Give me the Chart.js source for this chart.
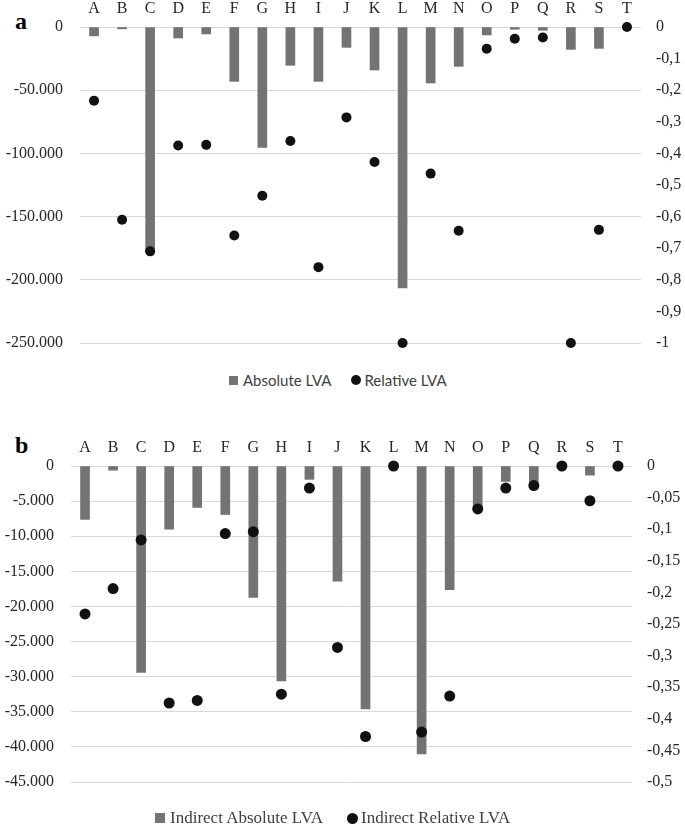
<!DOCTYPE html>
<html>
<head>
<meta charset="utf-8">
<script src="https://cdn.jsdelivr.net/npm/chart.js@4/dist/chart.umd.min.js"></script>
<style>
  html, body { margin: 0; padding: 0; background: #fff; }
  #wrap { position: relative; width: 685px; height: 827px; overflow: hidden; }
  #wrap canvas { position: absolute; left: 0; }
  .tag { position: absolute; font-family: "Liberation Serif", serif; font-weight: bold; font-size: 24px; line-height: 24px; color: #000; }
  .legend { position: absolute; display: flex; align-items: center; white-space: nowrap; color: #404040; }
  .sq { display: inline-block; width: 9px; height: 9px; background: #737373; margin-right: 5px; }
  .dot { display: inline-block; width: 10px; height: 10px; border-radius: 50%; background: #111; margin-right: 3px; }
</style>
</head>
<body>
<div id="wrap">
  <div class="tag" style="left:15px; top:9px;">a</div>
  <canvas id="chartA" width="685" height="360" style="top:0px;"></canvas>
  <div class="legend" style="left:229px; top:371px; font-family: Lato, sans-serif; font-size:15px; height:18px;">
    <span class="sq"></span><span>Absolute LVA</span>
    <span style="display:inline-block; width:20px;"></span>
    <span class="dot"></span><span>Relative LVA</span>
  </div>

  <div class="tag" style="left:15px; top:433px;">b</div>
  <canvas id="chartB" width="685" height="388" style="top:439px;"></canvas>
  <div class="legend" style="left:155px; top:808px; font-family: 'Liberation Serif', serif; font-size:17px; height:20px;">
    <span class="sq" style="width:10px; height:10px;"></span><span>Indirect Absolute LVA</span>
    <span style="display:inline-block; width:24px;"></span>
    <span class="dot" style="width:11px; height:11px;"></span><span>Indirect Relative LVA</span>
  </div>
</div>

<script>
// categories (countries / sectors A..T)
var categories = ['A', 'B', 'C', 'D', 'E', 'F', 'G', 'H', 'I', 'J',
                  'K', 'L', 'M', 'N', 'O', 'P', 'Q', 'R', 'S', 'T'];

// panel a
var absoluteLVA = [-7000, -1500, -178000, -8700, -5500, -43000, -95200, -30300, -43000, -16100,
                   -34000, -206500, -44300, -31100, -6300, -1800, -2600, -17700, -16900, 0];
var relativeLVA = [-0.233, -0.61, -0.71, -0.375, -0.373, -0.66, -0.534, -0.361, -0.76, -0.286,
                   -0.427, -1, -0.464, -0.645, -0.069, -0.037, -0.033, -1, -0.642, 0];

// panel b
var indirectAbsoluteLVA = [-7600, -600, -29400, -9000, -5900, -6900, -18700, -30600, -1900, -16400,
                           -34600, 0, -41000, -17600, -6200, -2200, -2500, 0, -1300, 0];
var indirectRelativeLVA = [-0.234, -0.194, -0.117, -0.375, -0.371, -0.107, -0.104, -0.361, -0.035, -0.287,
                           -0.428, 0, -0.421, -0.364, -0.068, -0.035, -0.031, 0, -0.055, 0];

// axis ranges [min, max, step]
var axisA = [-250000, 0, 50000];
var axisA2 = [-1, 0, 0.1];
var axisB = [-45000, 0, 5000];
var axisB2 = [-0.5, 0, 0.05];

var tickFont = { family: "'Liberation Serif', 'Times New Roman', serif", size: 16 };
var tickColor = '#262626';
var barColor = '#737373';
var dotColor = '#111111';

function fmtThousands(v) {
    var s = String(Math.round(Math.abs(v))).replace(/\B(?=(\d{3})+(?!\d))/g, '.');
    return (v < 0 ? '-' : '') + s;
}
function fmtDecimal(v) {
    var r = Math.round(v * 100) / 100;
    if (r === 0) return '0';
    return String(r).replace('.', ',');
}

function makeChart(id, absData, relData, leftAxis, rightAxis, leftW, rightW, dotR, bottomPad) {
    var ctx = document.getElementById(id).getContext('2d');
    return new Chart(ctx, {
        type: 'bar',
        data: {
            labels: categories,
            datasets: [{
                    type: 'line',
                    data: relData,
                    yAxisID: 'y1',
                    showLine: false,
                    pointRadius: dotR,
                    pointHoverRadius: dotR,
                    pointBackgroundColor: dotColor,
                    pointBorderColor: dotColor,
                    pointBorderWidth: 0,
                    clip: false,
                    order: 0
                }, {
                    type: 'bar',
                    data: absData,
                    yAxisID: 'y',
                    backgroundColor: barColor,
                    borderWidth: 0,
                    barThickness: 9,
                    order: 1
                }]
        },
        options: {
            responsive: false,
            animation: false,
            events: [],
            layout: { padding: { left: 0, right: 0, top: 0, bottom: bottomPad } },
            plugins: { legend: { display: false }, tooltip: { enabled: false } },
            scales: {
                x: {
                    position: 'top',
                    grid: { display: false },
                    border: { display: false },
                    ticks: { font: tickFont, color: tickColor, padding: 1, maxRotation: 0, autoSkip: false },
                    afterFit: function (s) { s.height = 27; s.paddingLeft = 0; s.paddingRight = 0; }
                },
                y: {
                    position: 'left',
                    min: leftAxis[0],
                    max: leftAxis[1],
                    grid: { color: '#d9d9d9', lineWidth: 1, drawTicks: false },
                    border: { display: false },
                    ticks: {
                        stepSize: leftAxis[2],
                        font: tickFont,
                        color: tickColor,
                        padding: 17,
                        callback: function (v) { return fmtThousands(v); }
                    },
                    afterFit: function (s) { s.width = leftW; s.paddingTop = 0; s.paddingBottom = 0; }
                },
                y1: {
                    position: 'right',
                    min: rightAxis[0],
                    max: rightAxis[1],
                    grid: { display: false, drawTicks: false },
                    border: { display: false },
                    ticks: {
                        stepSize: rightAxis[2],
                        font: tickFont,
                        color: tickColor,
                        padding: 15,
                        callback: function (v) { return fmtDecimal(v); }
                    },
                    afterFit: function (s) { s.width = rightW; s.paddingTop = 0; s.paddingBottom = 0; }
                }
            }
        }
    });
}

function drawAll() {
    makeChart('chartA', absoluteLVA, relativeLVA, axisA, axisA2, 80, 44, 5, 17);
    makeChart('chartB', indirectAbsoluteLVA, indirectRelativeLVA, axisB, axisB2, 71, 53, 5.5, 45);
}

if (document.fonts && document.fonts.load) {
    document.fonts.load('16px "Liberation Serif"').then(drawAll, drawAll);
} else {
    drawAll();
}
</script>
</body>
</html>
